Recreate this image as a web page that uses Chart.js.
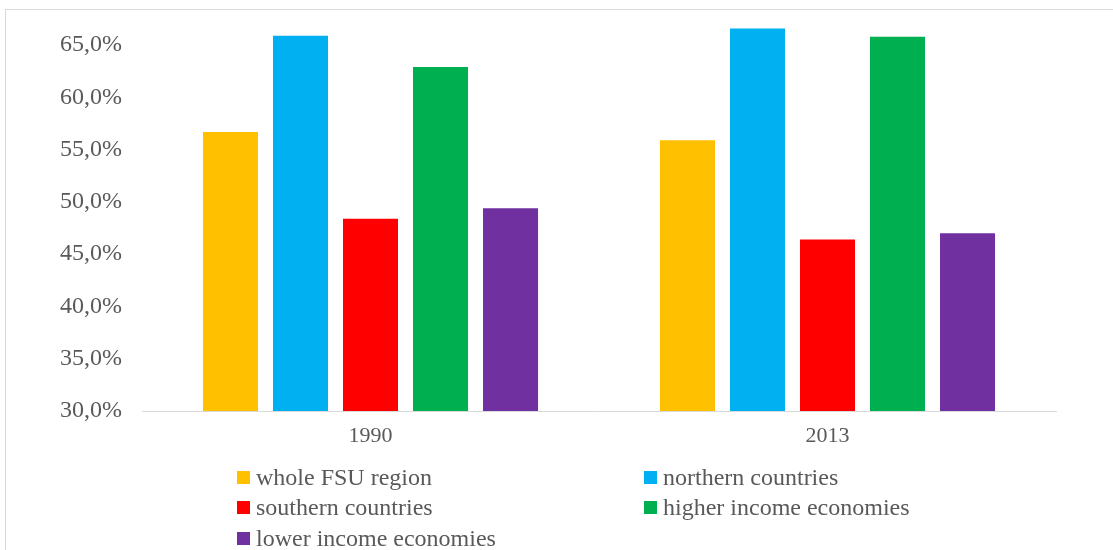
<!DOCTYPE html>
<html>
<head>
<meta charset="utf-8">
<script src="https://cdn.jsdelivr.net/npm/chart.js@4"></script>
<style>
  html, body { margin: 0; padding: 0; background: #fff; }
  #wrap { position: relative; width: 1113px; height: 550px; overflow: hidden; }
  #frame { position: absolute; left: 5px; top: 9px; width: 1200px; height: 600px; border: 1px solid #d9d9d9; box-sizing: border-box; }
  canvas { position: absolute; left: 0; top: 0; }
  #legend { position: absolute; left: 237px; top: 462px; display: grid;
            grid-template-columns: 407px 300px; grid-auto-rows: 30.5px;
            font-family: "Liberation Serif", serif; font-size: 24px; color: #595959; }
  .item { display: flex; align-items: center; white-space: nowrap; }
  .box { width: 13px; height: 13px; margin-right: 6px; flex: none; }
</style>
</head>
<body>
<div id="wrap">
  <div id="frame"></div>
  <canvas id="c" width="1113" height="550"></canvas>
  <div id="legend"></div>
</div>
<script>
const categories = ["1990", "2013"];
const seriesNames = ["whole FSU region", "northern countries", "southern countries", "higher income economies", "lower income economies"];
const wholeFSU = [56.7, 55.9];
const northern = [65.9, 66.6];
const southern = [48.4, 46.4];
const higherIncome = [62.9, 65.8];
const lowerIncome = [49.4, 47.0];
const yTicks = [30, 35, 40, 45, 50, 55, 60, 65];
const colors = ["#FFC000", "#00B0F0", "#FF0000", "#00B050", "#7030A0"];

const seriesValues = [wholeFSU, northern, southern, higherIncome, lowerIncome];
const textColor = "#595959";

const chart = new Chart(document.getElementById("c"), {
  type: "bar",
  data: {
    labels: categories,
    datasets: seriesNames.map((name, i) => ({
      label: name,
      data: seriesValues[i],
      backgroundColor: colors[i],
      borderWidth: 0,
      categoryPercentage: 0.766,
      barPercentage: 0.786
    }))
  },
  options: {
    responsive: false,
    animation: false,
    layout: { padding: { left: 0, right: 57, top: 19, bottom: 0 } },
    plugins: { legend: { display: false }, tooltip: { enabled: false } },
    scales: {
      x: {
        grid: { display: false, drawTicks: false },
        border: { display: true, color: "#d9d9d9", width: 1 },
        ticks: { color: textColor, font: { family: "Liberation Serif", size: 22 }, padding: 12 },
        afterFit: (s) => { s.height = 139; s.paddingLeft = 0; s.paddingRight = 0; }
      },
      y: {
        min: 30,
        max: 67.5,
        grid: { display: false, drawTicks: false },
        border: { display: false },
        afterBuildTicks: (s) => { s.ticks = yTicks.map(v => ({ value: v })); },
        ticks: {
          color: textColor,
          font: { family: "Liberation Serif", size: 24 },
          padding: 20,
          callback: (v) => Number(v).toFixed(1).replace(".", ",") + "%"
        },
        afterFit: (s) => { s.width = 142; s.paddingTop = 0; s.paddingBottom = 0; }
      }
    }
  }
});

const legend = document.getElementById("legend");
chart.data.datasets.forEach(ds => {
  const it = document.createElement("div");
  it.className = "item";
  const b = document.createElement("span");
  b.className = "box";
  b.style.background = ds.backgroundColor;
  const t = document.createElement("span");
  t.textContent = ds.label;
  it.appendChild(b); it.appendChild(t);
  legend.appendChild(it);
});
</script>
</body>
</html>
